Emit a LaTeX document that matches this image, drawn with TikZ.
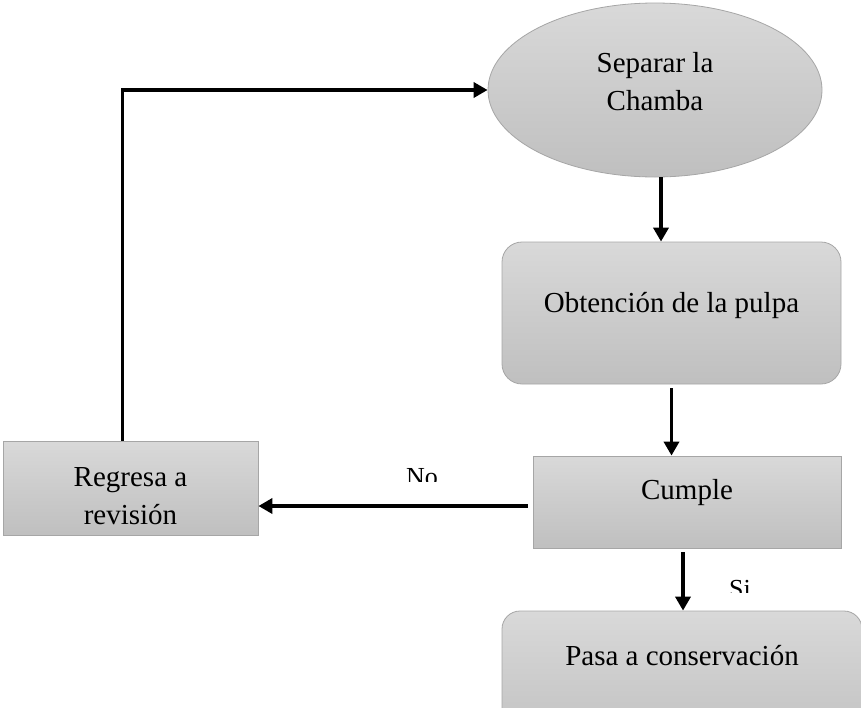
\documentclass[tikz,border=0pt]{standalone}
\usepackage{fontspec}
\setmainfont{Liberation Serif}
\usetikzlibrary{shapes.geometric, arrows.meta}

\tikzset{
    stage/.style={draw=black!35, line width=0.8pt, top color=black!15, bottom color=black!25,
        font=\fontsize{29}{38}\selectfont, align=center, inner sep=0pt},
    flow/.style={line width=3.5pt, -{Triangle[length=14pt, width=15pt]}},
    answer/.style={font=\fontsize{26}{30}\selectfont, inner sep=0pt},
}

\begin{document}
\begin{tikzpicture}[x=1pt, y=-1pt]
    \useasboundingbox (0, 0) rectangle (861, 707);
    \clip (0, 0) rectangle (861, 707);
    % stages
    \node[stage, ellipse, minimum width=334pt, minimum height=174pt, text depth=18pt] at (655, 90) (sep) {Separar la\\Chamba};
    \node[stage, rounded corners=20pt, minimum width=339pt, minimum height=142pt, text depth=22pt] at (671.5, 313) (obt) {Obtención de la pulpa};
    \node[stage, minimum width=308pt, minimum height=92pt, text depth=26pt] at (687, 502) (cum) {Cumple};
    \node[stage, minimum width=255pt, minimum height=94pt, text height=74pt] at (130.5, 488) (reg) {Regresa a\\revisión};
    \node[stage, rounded corners=18pt, minimum width=360pt, minimum height=142pt, text depth=54pt] at (682, 682) (pas) {Pasa a conservación};
    % flow
    \draw[flow] ([xshift=6pt]sep.south) -- ([xshift=6pt]sep.south |- obt.north);
    \draw[flow, shorten <=4pt] (obt.south) -- (obt.south |- cum.north);
    \draw[flow, shorten <=4pt] ([xshift=-4pt]cum.south) -- ([xshift=-4pt]cum.south |- pas.north);
    \draw[flow, shorten <=5pt] ([yshift=-4pt]cum.west) -- ([yshift=-4pt]cum.west -| reg.east);
    \draw[flow] ([xshift=-8pt]reg.north) |- (sep.west);
    % answers
    \begin{scope}
        \clip (380, 440) rectangle (470, 481);
        \node[answer, anchor=base] at (422, 485) (no) {No};
    \end{scope}
    \begin{scope}
        \clip (700, 560) rectangle (780, 592);
        \node[answer, anchor=base] at (740, 597) (si) {Si};
    \end{scope}
\end{tikzpicture}
\end{document}
